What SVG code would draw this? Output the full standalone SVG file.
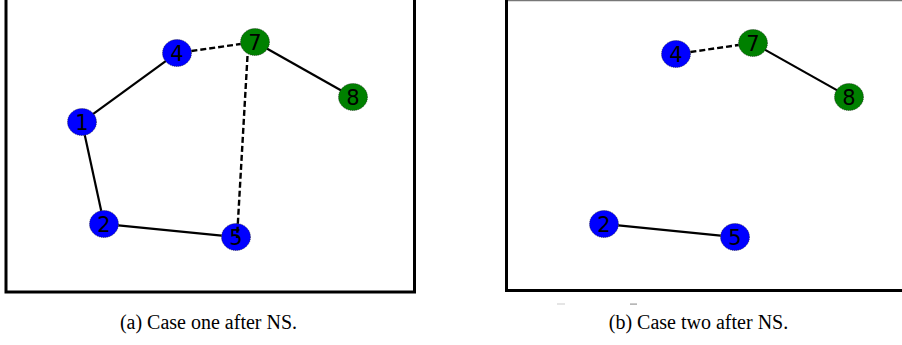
<svg xmlns="http://www.w3.org/2000/svg" width="902" height="345" viewBox="0 0 902 345">
<style>
.frame{fill:none;stroke:#000;stroke-width:3}
.b{fill:#0000ff}
.g{fill:#008000}
.n ellipse{stroke:#111;stroke-width:0.6;stroke-dasharray:1 1}
.n text{font-family:"DejaVu Sans",sans-serif;font-size:21px;fill:#000;text-anchor:middle}
.s{stroke:#000;stroke-width:2.2;fill:none}
.d{stroke:#000;stroke-width:2.4;fill:none;stroke-dasharray:6 3}
.cap{font-family:"Liberation Serif",serif;font-size:20px;fill:#000;text-anchor:middle}
</style>
<rect width="902" height="345" fill="#fff"/>
<!-- frames -->
<rect class="frame" x="6" y="-10" width="408.5" height="302"/>
<line x1="506" y1="0.5" x2="902" y2="0.5" stroke="#777" stroke-width="1.5"/>
<path d="M506.5,0 V290.5 H905" class="frame"/>
<rect x="557" y="303.5" width="8" height="1" fill="#ccc"/>
<rect x="630" y="303.5" width="7" height="1.2" fill="#999"/>
<!-- left panel nodes -->
<g id="a1" class="n"><ellipse class="b" cx="82" cy="122" rx="14.5" ry="13.5"/><text x="82" y="129.5">1</text></g>
<g id="a2" class="n"><ellipse class="b" cx="104" cy="224" rx="14.5" ry="13.5"/><text x="104" y="231.5">2</text></g>
<g id="a4" class="n"><ellipse class="b" cx="177" cy="53" rx="14.5" ry="13.5"/><text x="177" y="60.5">4</text></g>
<g id="a5" class="n"><ellipse class="b" cx="236" cy="237" rx="14.5" ry="13.5"/><text x="236" y="244.5">5</text></g>
<g id="a7" class="n"><ellipse class="g" cx="255" cy="42" rx="14.5" ry="13.5"/><text x="255" y="49.5">7</text></g>
<g id="a8" class="n"><ellipse class="g" cx="353" cy="97" rx="14.5" ry="13.5"/><text x="353" y="104.5">8</text></g>
<!-- right panel nodes -->
<g id="b2" class="n"><ellipse class="b" cx="604" cy="224" rx="14.5" ry="13.5"/><text x="604" y="231.5">2</text></g>
<g id="b4" class="n"><ellipse class="b" cx="676" cy="54" rx="14.5" ry="13.5"/><text x="676" y="61.5">4</text></g>
<g id="b5" class="n"><ellipse class="b" cx="735" cy="237" rx="14.5" ry="13.5"/><text x="735" y="244.5">5</text></g>
<g id="b7" class="n"><ellipse class="g" cx="753" cy="43" rx="14.5" ry="13.5"/><text x="753" y="50.5">7</text></g>
<g id="b8" class="n"><ellipse class="g" cx="849" cy="97" rx="14.5" ry="13.5"/><text x="849" y="104.5">8</text></g>
<!-- connectors -->
<g id="connectors">
<line class="s" x1="93.3" y1="113.8" x2="165.7" y2="61.2"/>
<line class="s" x1="84.8" y1="135.2" x2="101.2" y2="210.8"/>
<line class="s" x1="118.4" y1="225.4" x2="221.6" y2="235.6"/>
<line class="s" x1="267.2" y1="48.8" x2="340.8" y2="90.2"/>
<line class="d" x1="191.4" y1="51" x2="240.6" y2="44"/>
<line class="d" x1="247.5" y1="56" x2="237" y2="238"/>
<line class="d" x1="690.4" y1="52" x2="738.6" y2="45"/>
<line class="s" x1="765.2" y1="49.9" x2="836.8" y2="90.1"/>
<line class="s" x1="618.4" y1="225.4" x2="720.6" y2="235.6"/>
</g>
<text class="cap" x="208.5" y="329">(a) Case one after NS.</text>
<text class="cap" x="698.5" y="329">(b) Case two after NS.</text>
</svg>
